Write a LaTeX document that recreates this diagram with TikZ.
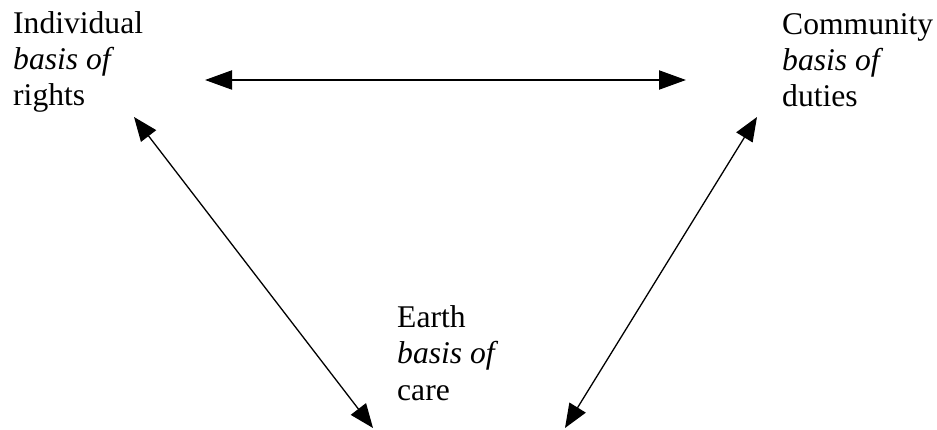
\documentclass[tikz,border=0pt]{standalone}
\usepackage{fontspec}
\setmainfont{Liberation Serif}
\usetikzlibrary{arrows.meta}
\begin{document}
\begin{tikzpicture}[x=1pt,y=-1pt,
  lbl/.style={anchor=base west,inner sep=0pt,align=left,font=\rmfamily\fontsize{31.6}{36.3}\selectfont},
  hlink/.style={line width=2pt,{Triangle[length=27pt,width=19pt]}-{Triangle[length=27pt,width=19pt]}},
  dlink/.style={line width=1.3pt,{Triangle[length=24pt,width=19pt]}-{Triangle[length=24pt,width=19pt]}}]
\useasboundingbox (0,0) rectangle (937,430);
\node[lbl] (ind) at (13,106) {Individual\\\textit{basis of}\\rights};
\node[lbl] (com) at (782,107) {Community\\\textit{basis of}\\duties};
\node[lbl] (ear) at (397,400) {Earth\\\textit{basis of}\\care};
\coordinate (h1) at (205,80);
\coordinate (h2) at (686,80);
\coordinate (l1) at (134,117);
\coordinate (l2) at (373,428);
\coordinate (r1) at (757,117);
\coordinate (r2) at (565,428);
\draw[hlink] (h1) -- (h2);
\draw[dlink] (l1) -- (l2);
\draw[dlink] (r1) -- (r2);
\end{tikzpicture}
\end{document}
